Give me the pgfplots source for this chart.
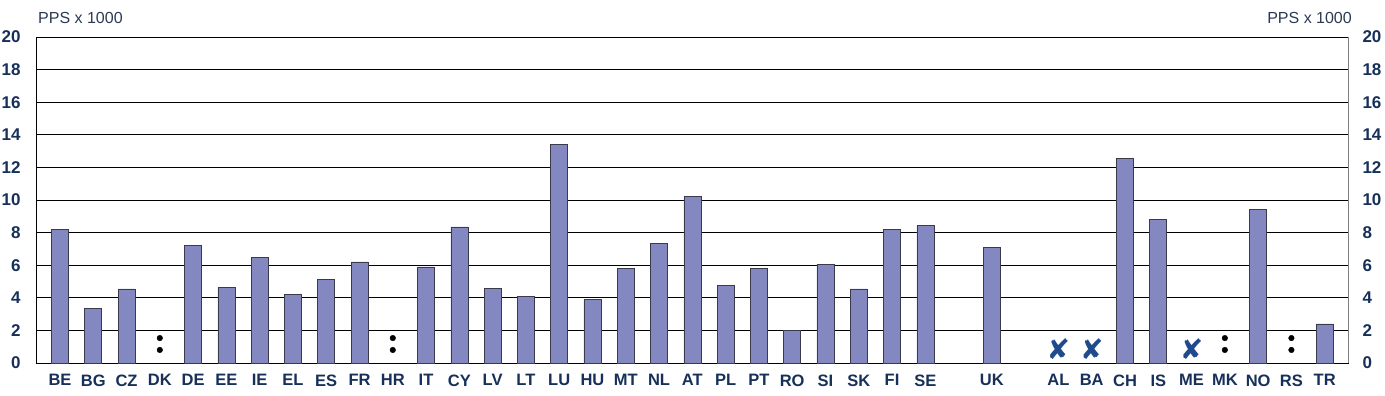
\documentclass[border=0pt]{standalone}
\usepackage{pgfplots}
\pgfplotsset{compat=1.18}
\usepackage{pgfplotstable}
\usepackage{fontspec}
\setmainfont{Liberation Sans}
\newfontfamily\symfont{DejaVu Sans}
\definecolor{barfill}{HTML}{8488C0}
\definecolor{baredge}{HTML}{3A3A4A}
\definecolor{navy}{HTML}{17305A}
\definecolor{xblue}{HTML}{1F4A8C}
\definecolor{lbl}{HTML}{2A3A55}

\pgfplotstableread{
x y
0 8.2
1 3.36
2 4.55
4 7.2
5 4.65
6 6.5
7 4.2
8 5.15
9 6.2
11 5.9
12 8.35
13 4.6
14 4.1
15 13.4
16 3.9
17 5.8
18 7.35
19 10.2
20 4.75
21 5.8
22 2.0
23 6.05
24 4.55
25 8.2
26 8.45
28 7.1
32 12.55
33 8.8
36 9.4
38 2.4
}\bars

% the ":" (not available) signs: two dots each
\pgfplotstableread{
x y
3 0.8
3 1.53
10 0.8
10 1.53
35 0.8
35 1.53
37 0.8
37 1.53
}\colons

\pgfplotstableread{
x y
30 0.88
31 0.88
34 0.88
}\crosses

\begin{document}
\begin{tikzpicture}
\begin{axis}[
  name=ax,
  scale only axis,
  width=1312pt, height=326pt,
  xmin=-0.72, xmax=38.7,
  ymin=0, ymax=20,
  ytick={0,2,...,20},
  xtick={0,1,2,3,4,5,6,7,8,9,10,11,12,13,14,15,16,17,18,19,20,21,22,23,24,25,26,28,30,31,32,33,34,35,36,37,38},
  xticklabels={BE,BG,CZ,DK,DE,EE,IE,EL,ES,FR,HR,IT,CY,LV,LT,LU,HU,MT,NL,AT,PL,PT,RO,SI,SK,FI,SE,UK,AL,BA,CH,IS,ME,MK,NO,RS,TR},
  major tick length=0pt,
  ymajorgrids,
  major grid style={black, line width=0.9pt},
  axis line style={black, line width=0.9pt},
  /pgf/number format/assume math mode=true,
  yticklabel style={font=\fontsize{17}{19}\selectfont\bfseries, text=navy, xshift=-12pt},
  xticklabel style={font=\fontsize{16.5}{18}\selectfont\bfseries, text=navy, yshift=-8pt},
  clip=false,
]
\addplot[ybar, bar width=17pt, fill=barfill, draw=baredge, line width=0.6pt] table[x=x,y=y]{\bars};
\addplot[only marks, mark=*, mark size=2.8pt, black] table[x=x,y=y]{\colons};
\addplot[only marks, mark=none, nodes near coords={\symfont\fontsize{28}{28}\selectfont\textcolor{xblue}{✘}}, nodes near coords align={center}] table[x=x,y=y]{\crosses};
\node[anchor=south west, font=\fontsize{16}{18}\selectfont, text=lbl, inner sep=0pt] at (rel axis cs:0,1) [xshift=2pt, yshift=13pt] {PPS x 1000};
\node[anchor=south east, font=\fontsize{16}{18}\selectfont, text=lbl, inner sep=0pt] at (rel axis cs:1,1) [xshift=4pt, yshift=13pt] {PPS x 1000};
\end{axis}
\begin{axis}[
  scale only axis,
  width=1312pt, height=326pt,
  xmin=-0.72, xmax=38.7,
  ymin=0, ymax=20,
  ytick={0,2,...,20},
  axis y line*=right,
  axis line style={gray, line width=0.8pt},
  hide x axis,
  major tick length=0pt,
  /pgf/number format/assume math mode=true,
  yticklabel style={font=\fontsize{17}{19}\selectfont\bfseries, text=navy, xshift=11pt},
]
\addplot[draw=none] coordinates {(0,0)};
\end{axis}
\pgfresetboundingbox
\path (ax.south west) ++(-36pt,-33pt) rectangle ++(1385pt,396pt);
\end{tikzpicture}
\end{document}
